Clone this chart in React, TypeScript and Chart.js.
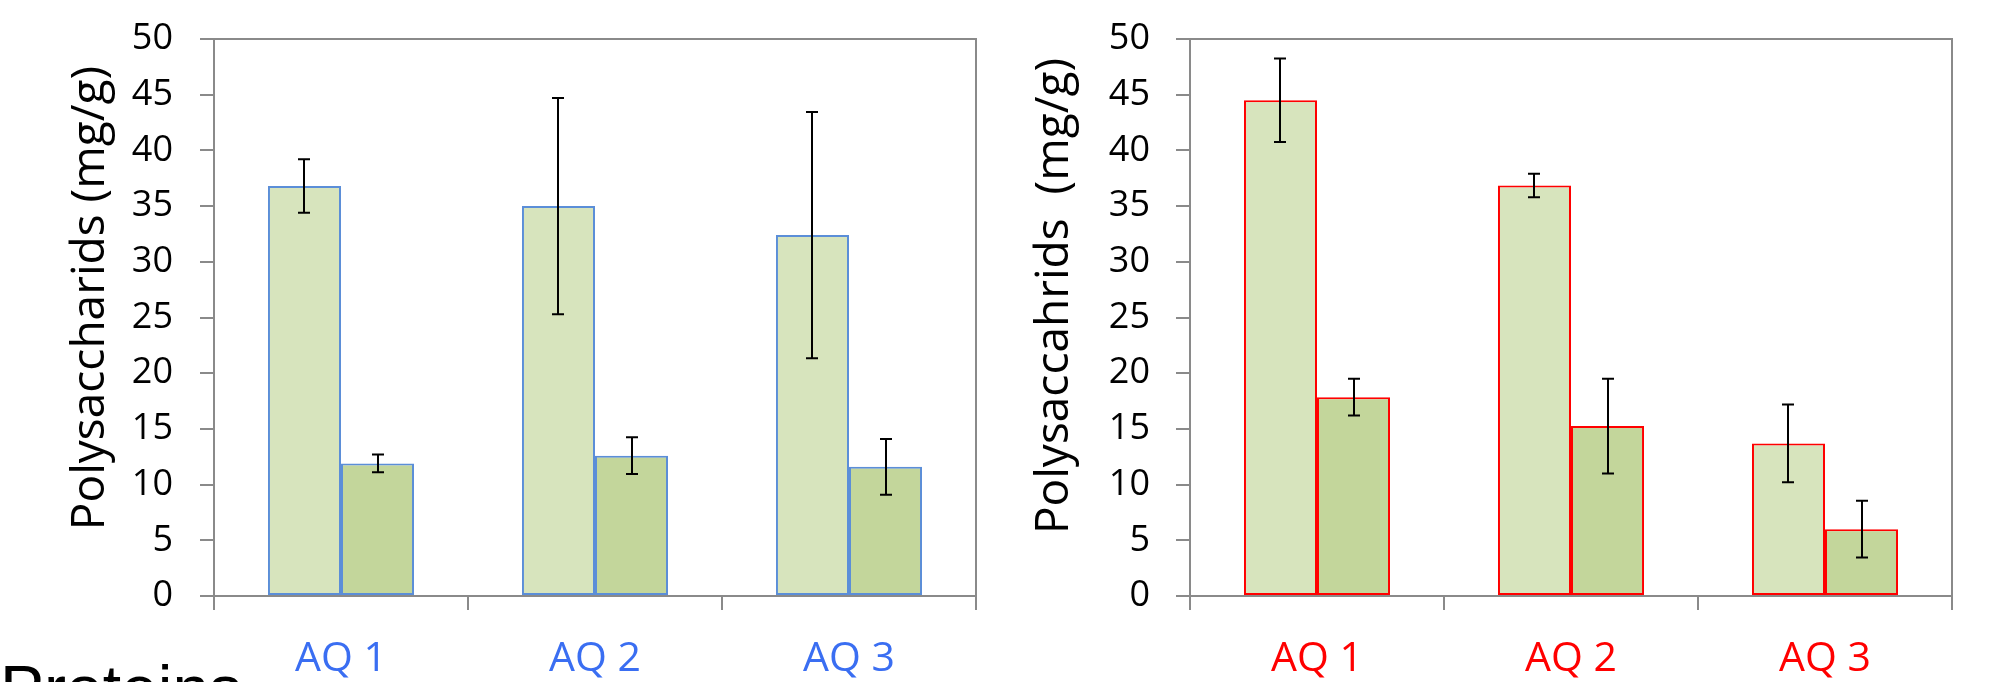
import React, { useEffect, useRef } from "react";
import { Chart, registerables } from "chart.js";

Chart.register(...registerables);

const categories = ["AQ 1", "AQ 2", "AQ 3"];
const yTicksMin = 0;
const yTicksMax = 50;
const yTickStep = 5;

const leftLight = [36.8, 35.0, 32.4];
const leftLightErr = [2.4, 9.7, 11.05];
const leftDark = [11.9, 12.6, 11.6];
const leftDarkErr = [0.8, 1.65, 2.5];

const rightLight = [44.5, 36.85, 13.7];
const rightLightErr = [3.75, 1.05, 3.5];
const rightDark = [17.85, 15.25, 6.0];
const rightDarkErr = [1.65, 4.25, 2.55];

const leftTitle = "Polysaccharids (mg/g)";
const rightTitle = "Polysaccahrids  (mg/g)";
const bottomText = "Proteins";

const FONT = "'Open Sans', 'DejaVu Sans', sans-serif";
const GREY = "#8a8a8a";
const LIGHT = "#D7E4BD";
const DARK = "#C3D69B";

const errorBarPlugin = {
  id: "errorBars",
  afterDatasetsDraw(chart: any) {
    const ctx = chart.ctx;
    const yScale = chart.scales.y;
    ctx.save();
    ctx.strokeStyle = "#000";
    ctx.lineWidth = 2;
    chart.data.datasets.forEach((ds: any, i: number) => {
      const meta = chart.getDatasetMeta(i);
      const errs = ds.errorBars || [];
      meta.data.forEach((el: any, j: number) => {
        const v = ds.data[j];
        const e = errs[j];
        if (e == null) return;
        const x = Math.round(el.x);
        const yt = yScale.getPixelForValue(v + e);
        const yb = yScale.getPixelForValue(v - e);
        const cap = 6;
        ctx.beginPath();
        ctx.moveTo(x, yt);
        ctx.lineTo(x, yb);
        ctx.moveTo(x - cap, yt);
        ctx.lineTo(x + cap, yt);
        ctx.moveTo(x - cap, yb);
        ctx.lineTo(x + cap, yb);
        ctx.stroke();
      });
    });
    ctx.restore();
  },
};

const frameBorderPlugin = {
  id: "frameBorder",
  afterDraw(chart: any) {
    const { ctx, chartArea } = chart;
    ctx.save();
    ctx.strokeStyle = GREY;
    ctx.lineWidth = 2;
    ctx.beginPath();
    ctx.moveTo(chartArea.left, chartArea.top);
    ctx.lineTo(chartArea.right, chartArea.top);
    ctx.lineTo(chartArea.right, chartArea.bottom);
    ctx.stroke();
    ctx.restore();
  },
};

const yTitlePlugin = {
  id: "yTitle",
  afterDraw(chart: any, _args: any, opts: any) {
    const ctx = chart.ctx;
    ctx.save();
    ctx.translate(opts.x, opts.y);
    ctx.rotate(-Math.PI / 2);
    ctx.fillStyle = "#000";
    ctx.font = `46px ${FONT}`;
    ctx.textAlign = "center";
    ctx.textBaseline = "middle";
    ctx.fillText(opts.text, 0, 0);
    ctx.restore();
  },
};

function makeConfig(opts: {
  light: number[];
  lightErr: number[];
  dark: number[];
  darkErr: number[];
  border: string;
  labelColor: string;
  title: string;
  titleX: number;
  titleY: number;
  yWidth: number;
  tickPad: number;
  padRight: number;
}): any {
  return {
    type: "bar",
    data: {
      labels: categories,
      datasets: [
        {
          data: opts.light,
          errorBars: opts.lightErr,
          backgroundColor: LIGHT,
          borderColor: opts.border,
          borderWidth: 2,
          borderSkipped: false,
          categoryPercentage: 0.575,
          barPercentage: 1,
        },
        {
          data: opts.dark,
          errorBars: opts.darkErr,
          backgroundColor: DARK,
          borderColor: opts.border,
          borderWidth: 2,
          borderSkipped: false,
          categoryPercentage: 0.575,
          barPercentage: 1,
        },
      ],
    },
    options: {
      responsive: false,
      animation: false,
      devicePixelRatio: 1,
      layout: { padding: { left: 0, right: opts.padRight, top: 39, bottom: 0 } },
      plugins: {
        legend: { display: false },
        tooltip: { enabled: false },
        yTitle: { text: opts.title, x: opts.titleX, y: opts.titleY },
      },
      scales: {
        x: {
          offset: true,
          grid: {
            display: true,
            offset: true,
            drawOnChartArea: false,
            drawTicks: true,
            tickLength: 14,
            color: GREY,
            lineWidth: 2,
          },
          border: { display: true, color: GREY, width: 2 },
          ticks: {
            color: opts.labelColor,
            font: { family: FONT, size: 41 },
            padding: 25,
            maxRotation: 0,
          },
          afterFit: (s: any) => {
            s.height = 86;
            s.paddingLeft = 0;
            s.paddingRight = 0;
          },
        },
        y: {
          min: yTicksMin,
          max: yTicksMax,
          ticks: {
            stepSize: yTickStep,
            color: "#000",
            font: { family: FONT, size: 36 },
            padding: opts.tickPad,
          },
          grid: {
            drawOnChartArea: false,
            drawTicks: true,
            tickLength: 14,
            color: GREY,
            lineWidth: 2,
          },
          border: { display: true, color: GREY, width: 2 },
          title: { display: false },
          afterFit: (s: any) => {
            s.width = opts.yWidth;
            s.paddingTop = 0;
            s.paddingBottom = 0;
          },
        },
      },
    },
    plugins: [errorBarPlugin, frameBorderPlugin, yTitlePlugin],
  };
}

export default function App() {
  const leftRef = useRef<HTMLCanvasElement | null>(null);
  const rightRef = useRef<HTMLCanvasElement | null>(null);

  useEffect(() => {
    const c1 = new Chart(
      leftRef.current as HTMLCanvasElement,
      makeConfig({
        light: leftLight,
        lightErr: leftLightErr,
        dark: leftDark,
        darkErr: leftDarkErr,
        border: "#5B8ED8",
        labelColor: "#3A6EF2",
        title: leftTitle,
        titleX: 90.6,
        titleY: 298,
        yWidth: 214,
        tickPad: 27,
        padRight: 24,
      })
    );
    const c2 = new Chart(
      rightRef.current as HTMLCanvasElement,
      makeConfig({
        light: rightLight,
        lightErr: rightLightErr,
        dark: rightDark,
        darkErr: rightDarkErr,
        border: "#FF0000",
        labelColor: "#FF0000",
        title: rightTitle,
        titleX: 54.6,
        titleY: 296,
        yWidth: 190,
        tickPad: 26,
        padRight: 52,
      })
    );
    return () => {
      c1.destroy();
      c2.destroy();
    };
  }, []);

  return (
    <div
      style={{
        position: "fixed",
        left: 0,
        top: 0,
        width: 2004,
        height: 682,
        overflow: "hidden",
        background: "#fff",
      }}
    >
      <canvas
        ref={leftRef}
        width={1000}
        height={682}
        style={{ position: "absolute", left: 0, top: 0, width: 1000, height: 682 }}
      />
      <canvas
        ref={rightRef}
        width={1004}
        height={682}
        style={{ position: "absolute", left: 1000, top: 0, width: 1004, height: 682 }}
      />
      <div
        style={{
          position: "absolute",
          left: 0,
          top: 656,
          fontFamily: "'Liberation Sans', Arial, sans-serif",
          fontSize: 66,
          lineHeight: "66px",
          color: "#000",
          whiteSpace: "nowrap",
        }}
      >
        {bottomText}
      </div>
    </div>
  );
}
